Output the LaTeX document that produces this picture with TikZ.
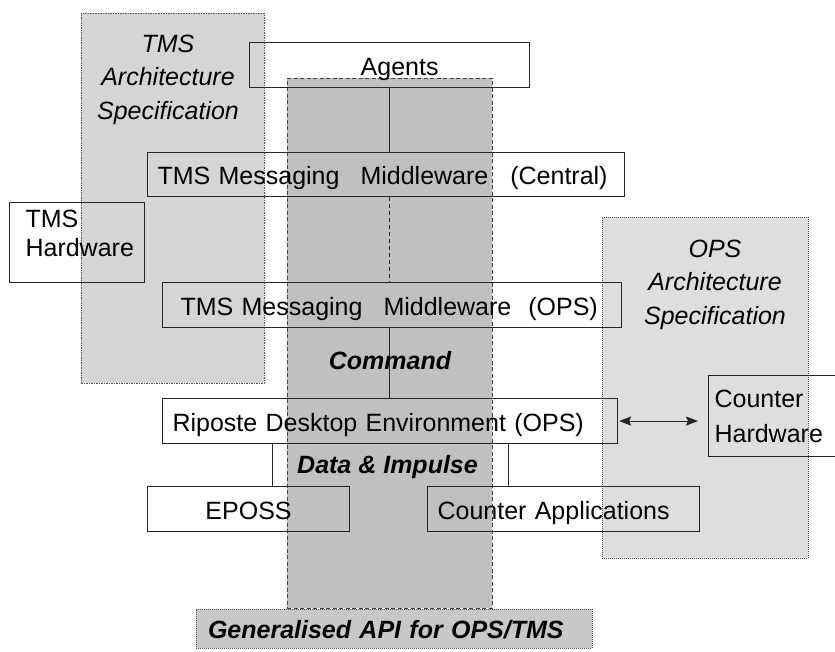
\documentclass[tikz,border=0pt]{standalone}
\usepackage{fontspec}
\setmainfont{Liberation Sans}
\usetikzlibrary{arrows.meta}
\definecolor{tmsfill}{HTML}{D5D5D5}
\definecolor{opsfill}{HTML}{DEDEDE}
\definecolor{colfill}{HTML}{C0C0C0}
\definecolor{apifill}{HTML}{C8C8C8}
\definecolor{edgegray}{HTML}{555555}
\begin{document}
\begin{tikzpicture}[x=1pt,y=-1pt,
  every node/.style={font=\fontsize{25}{29}\selectfont},
  region/.style={anchor=north west, inner sep=0pt, outer sep=0pt},
  box/.style={draw=black!85, line width=1.1pt, anchor=north west, inner ysep=0pt,
              text height=20pt, text depth=0pt, align=left},
  link/.style={draw=black!85, line width=1.1pt},
  boldlbl/.style={font=\fontsize{25}{29}\selectfont\bfseries\itshape},
  spec/.style={font=\fontsize{25}{33.5}\selectfont\itshape, align=center, anchor=north,
               text width=200pt, text height=19pt, inner sep=0pt}]
\useasboundingbox (0,0) rectangle (835,651);

% background regions
\node[region, fill=tmsfill, draw=edgegray, line width=0.8pt, dash pattern=on 1.5pt off 1pt,
      minimum width=183pt, minimum height=370pt] (tmsreg) at (81,13) {};
\node[region, fill=opsfill, draw=edgegray, line width=0.8pt, dash pattern=on 1pt off 1pt,
      minimum width=206pt, minimum height=341pt] (opsreg) at (602,217) {};
\node[region, fill=colfill, draw=black!75, line width=1pt, dash pattern=on 4pt off 2.5pt,
      minimum width=205pt, minimum height=530pt] (column) at (287,78) {};
\node[region, fill=apifill, draw=edgegray, line width=0.8pt, dash pattern=on 1pt off 1pt,
      minimum width=396pt, minimum height=39pt, boldlbl, align=left, text width=372pt,
      inner xsep=12pt, text height=20pt, text depth=0pt] (api) at (196,609)
      {Generalised API for OPS/TMS};

% region titles
\node[spec] (tmsspec) at (168,33) {TMS\\Architecture\\Specification};
\node[spec] (opsspec) at (715,238) {OPS\\Architecture\\Specification};

% boxes
\node[box, minimum width=280pt, minimum height=45pt, align=right, inner xsep=91pt,
      text width=98pt] (agents) at (249,42) {Agents};
\node[box, minimum width=477pt, minimum height=44pt, inner xsep=10pt, text width=457pt]
      (central) at (147,152) {TMS Messaging\hspace{21pt}Middleware\hspace{22pt}(Central)};
\node[box, minimum width=135pt, minimum height=80pt, inner xsep=16pt, text width=103pt,
      text height=18pt, text depth=48pt] (tmshw) at (9,202) {TMS\\Hardware};
\node[box, minimum width=459pt, minimum height=45pt, inner xsep=18pt, text width=423pt]
      (opsmw) at (162,282) {TMS Messaging\hspace{21pt}Middleware\hspace{17pt}(OPS)};
\node[box, minimum width=455pt, minimum height=45pt, inner xsep=10pt, text width=435pt]
      (riposte) at (162,398) {Riposte Desktop Environment (OPS)};
\node[box, minimum width=140pt, minimum height=81pt, inner xsep=6pt, text width=128pt,
      font=\fontsize{25}{35}\selectfont, text height=18pt, text depth=35pt]
      (ch) at (708,375) {Counter\\Hardware};
\node[box, minimum width=202pt, minimum height=45pt, align=center] (eposs) at (147,486) {EPOSS};
\node[box, minimum width=272pt, minimum height=45pt, inner xsep=10pt, text width=252pt]
      (ca) at (427,486) {Counter Applications};

% connectors
\draw[link] (agents.south) -- (agents.south |- central.north);
\draw[link, dash pattern=on 4pt off 3pt] (agents.south |- central.south) -- (agents.south |- opsmw.north);
\draw[link] (agents.south |- opsmw.south) -- (agents.south |- riposte.north);
\draw[link] ([xshift=24pt]eposs.north) -- ([xshift=24pt]eposs.north |- riposte.south);
\draw[link] ([xshift=-55.5pt]ca.north) -- ([xshift=-55.5pt]ca.north |- riposte.south);
\draw[link, {Stealth[length=12pt,width=9pt,inset=2pt]}-{Stealth[length=12pt,width=9pt,inset=2pt]}]
      ([xshift=1pt]riposte.east) -- ([xshift=-10pt]riposte.east -| ch.west);

% flow labels
\node[boldlbl, anchor=base] (cmd) at (390,369) {Command};
\node[boldlbl, anchor=base] (data) at (387.5,473) {Data \& Impulse};
\end{tikzpicture}
\end{document}
